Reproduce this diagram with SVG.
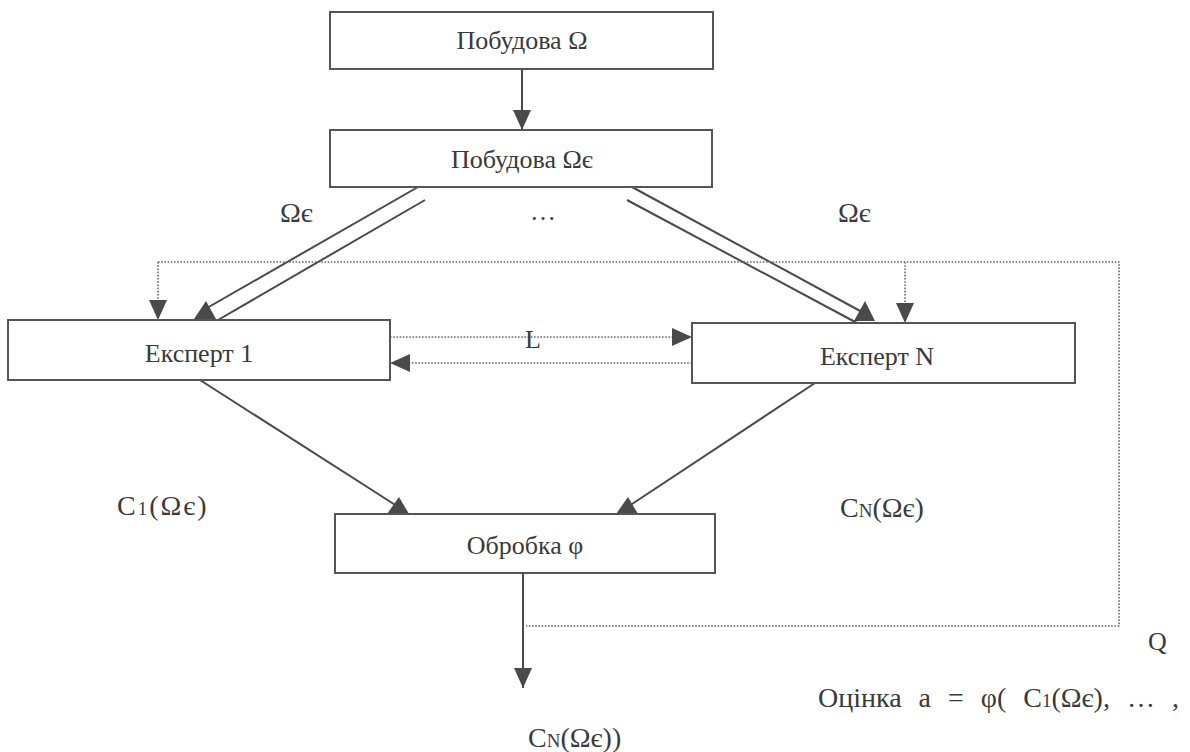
<svg xmlns="http://www.w3.org/2000/svg" width="1190" height="752" viewBox="0 0 1190 752">
<style>
.box{fill:#fff;stroke:#555;stroke-width:2}
.t{font-family:"Liberation Serif","Times New Roman",serif;font-size:26px;fill:#3a3a3a}
.f{font-size:28px}
.ln{stroke:#4a4a4a;stroke-width:2;fill:none}
.dot{stroke:#666;stroke-width:1.6;stroke-dasharray:1.6 1.6;fill:none}
.tri{fill:#4a4a4a}
.sm{font-size:19px}
</style>
<defs>
<marker id="arr" markerUnits="userSpaceOnUse" markerWidth="22" markerHeight="20" refX="20" refY="9" orient="auto" viewBox="0 0 22 20">
<path d="M0,0 L20,9 L0,18 z" fill="#4a4a4a"/>
</marker>
</defs>
<rect width="1190" height="752" fill="#fff"/>
<g id="connectors">
<line class="ln" x1="522" y1="69" x2="522" y2="130" marker-end="url(#arr)"/>
<line class="ln" x1="418" y1="187" x2="207" y2="308"/>
<line class="ln" x1="425" y1="200" x2="218" y2="320"/>
<polygon class="tri" points="194,319 216,319 206,301"/>
<line class="ln" x1="632" y1="187" x2="862" y2="312"/>
<line class="ln" x1="627" y1="200" x2="857" y2="323"/>
<polygon class="tri" points="854,321 875,321 865,301"/>
<path class="dot" d="M158,262 H1119 V626 H526"/>
<path class="dot" d="M158,262 V320" marker-end="url(#arr)"/>
<path class="dot" d="M905,262 V323" marker-end="url(#arr)"/>
<path class="dot" d="M390,337 H692" marker-end="url(#arr)"/>
<path class="dot" d="M692,363 H390" marker-end="url(#arr)"/>
<line class="ln" x1="200" y1="380" x2="400" y2="508"/>
<polygon class="tri" points="387,514 409,514 399,497"/>
<line class="ln" x1="815" y1="383" x2="626" y2="508"/>
<polygon class="tri" points="616,514 638,514 628,497"/>
<line class="ln" x1="523" y1="573" x2="523" y2="688" marker-end="url(#arr)"/>
</g>
<g id="n1"><rect class="box" x="330" y="12" width="383" height="57"/><text class="t" x="522" y="49" text-anchor="middle">Побудова Ω</text></g>
<g id="n2"><rect class="box" x="330" y="130" width="382" height="57"/><text class="t" x="522" y="168" text-anchor="middle">Побудова Ωє</text></g>
<g id="e1"><rect class="box" x="8" y="320" width="382" height="60"/><text class="t" x="199" y="362" text-anchor="middle">Експерт 1</text></g>
<g id="eN"><rect class="box" x="692" y="323" width="383" height="60"/><text class="t" x="877" y="365" text-anchor="middle">Експерт N</text></g>
<g id="proc"><rect class="box" x="335" y="514" width="380" height="59"/><text class="t" x="525" y="554" text-anchor="middle">Обробка φ</text></g>
<g id="labels">
<text class="t f" x="280" y="222">Ωє</text>
<text class="t f" x="838" y="222">Ωє</text>
<text class="t" x="530" y="220">…</text>
<text class="t" x="533" y="348" text-anchor="middle">L</text>
<text class="t f" x="117" y="515" letter-spacing="2">C<tspan class="sm">1</tspan>(Ωє)</text>
<text class="t f" x="840" y="517">C<tspan class="sm">N</tspan>(Ωє)</text>
<text class="t" x="1148" y="650">Q</text>
<text class="t f" x="818" y="707" word-spacing="10">Оцінка a = φ( C<tspan class="sm">1</tspan>(Ωє), … ,</text>
<text class="t f" x="528" y="747">C<tspan class="sm">N</tspan>(Ωє))</text>
</g>
</svg>
